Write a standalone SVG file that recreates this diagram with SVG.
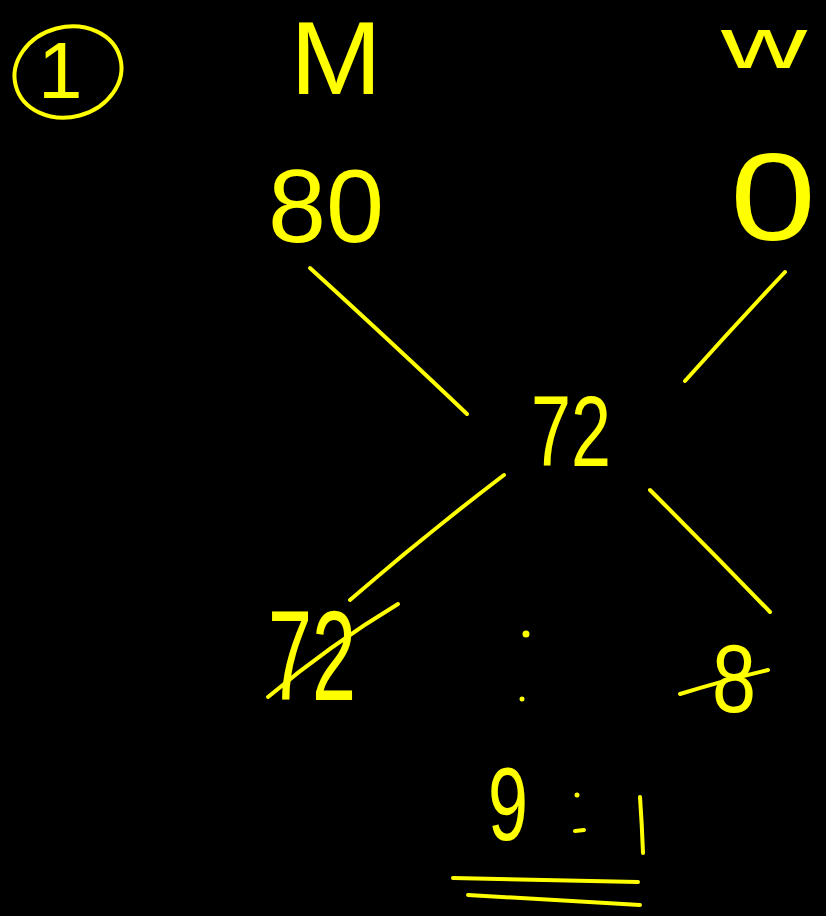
<svg xmlns="http://www.w3.org/2000/svg" width="826" height="916" viewBox="0 0 826 916">
<style>
.t{font-family:"Liberation Sans","DejaVu Sans",sans-serif;fill:#ffff00;}
.s{fill:none;stroke:#ffff00;stroke-width:4;stroke-linecap:round;stroke-linejoin:round;}
.d{fill:#ffff00;}
</style>
<rect width="826" height="916" fill="#000000"/>
<g id="node-one">
<ellipse class="s" cx="68" cy="72" rx="54" ry="45" transform="rotate(-15 68 72)"/>
<text class="t" x="38" y="98" font-size="80">1</text>
</g>
<g id="node-M">
<text class="t" x="290" y="94" font-size="104" textLength="92" lengthAdjust="spacingAndGlyphs">M</text>
</g>
<g id="node-W">
<text class="t" x="721" y="68" font-size="72" textLength="86" lengthAdjust="spacingAndGlyphs">w</text>
</g>
<g id="node-80">
<text class="t" x="268" y="242" font-size="104" textLength="116" lengthAdjust="spacingAndGlyphs">80</text>
</g>
<g id="node-0">
<text class="t" x="730" y="240" font-size="125" textLength="86" lengthAdjust="spacingAndGlyphs">0</text>
</g>
<g id="node-72">
<text class="t" x="531" y="466" font-size="100" textLength="80" lengthAdjust="spacingAndGlyphs">72</text>
</g>
<g id="node-72-crossed">
<text class="t" x="268" y="700" font-size="128" textLength="88" lengthAdjust="spacingAndGlyphs">72</text>
<path class="s" d="M268 697 Q330 645 398 604"/>
</g>
<g id="node-colon">
<circle class="d" cx="526" cy="634" r="3.5"/>
<circle class="d" cx="522" cy="699" r="2.5"/>
</g>
<g id="node-8-crossed">
<text class="t" x="712" y="712" font-size="96" textLength="44" lengthAdjust="spacingAndGlyphs">8</text>
<path class="s" d="M680 694 Q725 680 768 670"/>
</g>
<g id="node-ratio">
<text class="t" x="488" y="840" font-size="104" textLength="40" lengthAdjust="spacingAndGlyphs">9</text>
<circle class="d" cx="577" cy="795" r="2.5"/>
<path class="s" d="M575 831 L584 830"/>
<path class="s" d="M640 797 Q642 825 643 853"/>
<path class="s" d="M453 878 Q545 880 638 882"/>
<path class="s" d="M468 895 Q555 900 640 905"/>
</g>
<g id="connectors">
<path class="s" d="M310 268 Q400 350 467 414"/>
<path class="s" d="M785 272 Q735 325 685 381"/>
<path class="s" d="M504 475 Q425 535 350 600"/>
<path class="s" d="M650 490 Q710 550 770 612"/>
</g>
</svg>
